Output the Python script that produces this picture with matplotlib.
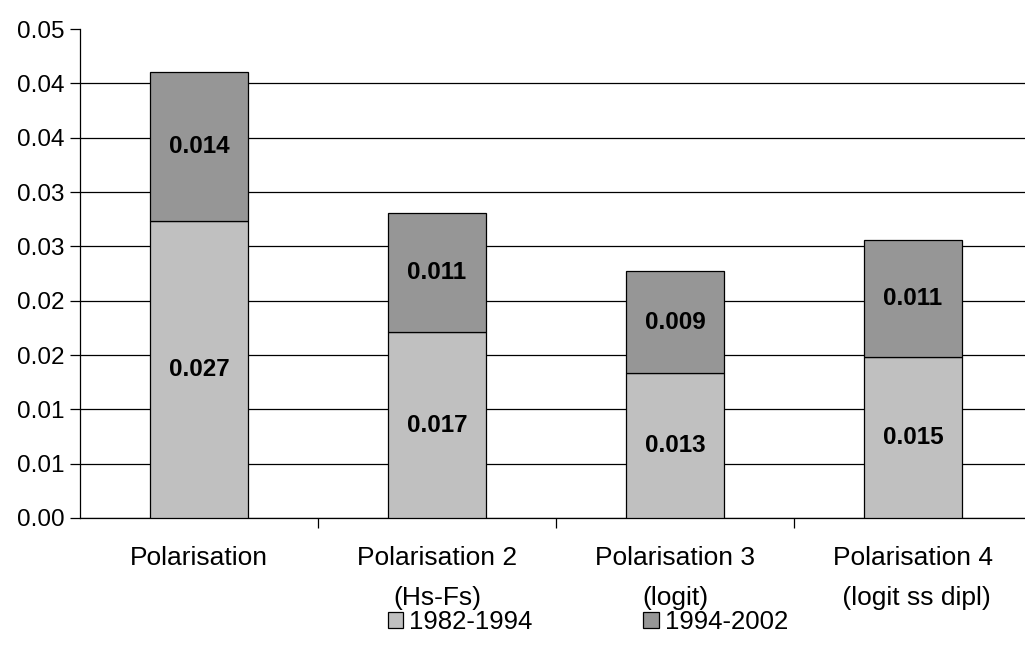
"""Polarisation par période : barres empilées 1982-1994 / 1994-2002."""

import matplotlib.pyplot as plt

plt.rcParams["font.family"] = ["Liberation Sans", "DejaVu Sans"]

categories = [
    "Polarisation",
    "Polarisation 2\n(Hs-Fs)",
    "Polarisation 3\n(logit)",
    "Polarisation 4\n (logit ss dipl)",
]
period_1 = [0.0273, 0.0171, 0.0133, 0.0148]
period_2 = [0.0137, 0.0110, 0.0094, 0.0108]
series_names = ["1982-1994", "1994-2002"]
y_ticks = [0.0, 0.005, 0.010, 0.015, 0.020, 0.025, 0.030, 0.035, 0.040, 0.045]
y_tick_labels = ["0.00", "0.01", "0.01", "0.02", "0.02",
                 "0.03", "0.03", "0.04", "0.04", "0.05"]

fig = plt.figure(figsize=(10.25, 6.57), dpi=100)
ax = fig.add_axes([80 / 1025, 139 / 657, 952 / 1025, 489 / 657])

x = list(range(len(categories)))
bars1 = ax.bar(x, period_1, width=0.41, color="#c0c0c0", edgecolor="black",
               linewidth=0.9, label=series_names[0], zorder=3)
bars2 = ax.bar(x, period_2, width=0.41, bottom=period_1, color="#969696",
               edgecolor="black", linewidth=0.9, label=series_names[1], zorder=3)

for bars, vals, bottoms in [(bars1, period_1, [0] * 4), (bars2, period_2, period_1)]:
    for b, v, base in zip(bars, vals, bottoms):
        ax.text(b.get_x() + b.get_width() / 2, base + v / 2, f"{v:.3f}",
                ha="center", va="center", fontsize=17.5, fontweight="bold", zorder=4)

ax.set_xlim(-0.5, len(categories) - 0.5)
ax.set_ylim(0, 0.045)
ax.set_yticks(y_ticks)
ax.set_yticklabels(y_tick_labels, fontsize=17.5)
ax.set_xticks([i + 0.5 for i in x])
ax.set_xticklabels([])
ax.set_xticks(x, minor=True)
ax.set_xticklabels(categories, minor=True, fontsize=19, linespacing=1.85)
ax.tick_params(axis="x", which="minor", length=0, pad=20)
ax.tick_params(axis="x", which="major", length=7, direction="out", width=0.9)
ax.tick_params(axis="y", length=7, direction="out", width=0.9, pad=4)

ax.yaxis.grid(True, color="black", linewidth=0.9, zorder=0)
ax.get_ygridlines()[-1].set_visible(False)
for side in ["top", "right"]:
    ax.spines[side].set_visible(False)
for side in ["left", "bottom"]:
    ax.spines[side].set_linewidth(0.9)

fig.legend(handles=[bars1, bars2], labels=series_names, loc="center",
           bbox_to_anchor=(588 / 1025, 1 - 622 / 657), ncol=2, frameon=False,
           fontsize=18.5, handlelength=0.6, handleheight=0.6, handletextpad=0.25,
           columnspacing=4.3)

fig.savefig("out.png", dpi=100)
